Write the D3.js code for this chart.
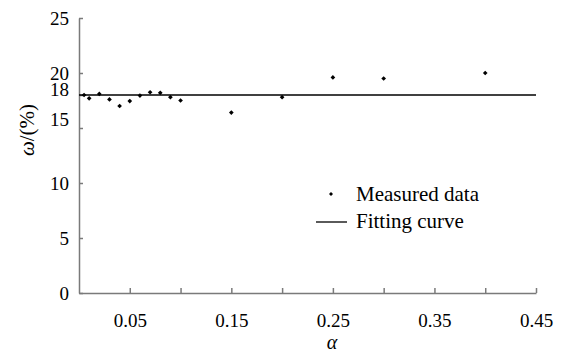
<!DOCTYPE html>
<html>
<head>
<meta charset="utf-8">
<script src="https://cdn.jsdelivr.net/npm/d3@7"></script>
<style>
  body { margin: 0; background: #fff; }
</style>
</head>
<body>
<div id="chart"></div>
<script>
// measured points
let alpha = [0.005, 0.01, 0.02, 0.03, 0.04, 0.05, 0.06, 0.07, 0.08, 0.09, 0.10, 0.15, 0.20, 0.25, 0.30, 0.40];
let omega = [18.0, 17.7, 18.1, 17.6, 17.0, 17.45, 17.95, 18.25, 18.2, 17.8, 17.5, 16.4, 17.8, 19.6, 19.5, 20.0];
// fitting curve (constant)
let fitX = [0, 0.45];
let fitY = [18, 18];
let xTicks = [0.05, 0.10, 0.15, 0.20, 0.25, 0.30, 0.35, 0.40, 0.45];
let xLabels = ["0.05", "", "0.15", "", "0.25", "", "0.35", "", "0.45"];
let yTicks = [0, 5, 10, 15, 18, 20, 25];

let width = 566;
let height = 354;
let margin = {top: 18, right: 30, bottom: 61, left: 79};
let serif = "'Liberation Serif', 'Times New Roman', Times, serif";

let svg = d3.select("#chart").append("svg")
	.attr("width", width)
	.attr("height", height)
	.attr("font-family", serif);

let x = d3.scaleLinear().domain([0, 0.45]).range([margin.left, width - margin.right]);
let y = d3.scaleLinear().domain([0, 25]).range([height - margin.bottom, margin.top]);

let axisColor = "#7a7a7a";

// x axis, ticks pointing inward
let xAxis = svg.append("g")
	.attr("transform", "translate(0," + y(0) + ")")
	.call(d3.axisBottom(x).tickValues(xTicks).tickSize(-5).tickSizeOuter(0)
		.tickFormat(function(d, i){ return xLabels[i]; }));
xAxis.attr("font-family", serif).attr("font-size", 19);
xAxis.selectAll("text").attr("y", 21);

// y axis
let yAxis = svg.append("g")
	.attr("transform", "translate(" + x(0) + ",0)")
	.call(d3.axisLeft(y).tickValues(yTicks).tickSize(-4).tickSizeOuter(0));
yAxis.attr("font-family", serif).attr("font-size", 19);
yAxis.selectAll("text").attr("x", -10)
	.attr("dy", function(d){ return d == 15 ? "-0.12em" : (d == 18 ? "0" : "0.32em"); });

svg.selectAll(".domain, .tick line").attr("stroke", axisColor).attr("stroke-width", 1.5);
svg.selectAll(".tick text").attr("fill", "#000");

// fitting line
let line = d3.line()
	.x(function(d, i){ return x(fitX[i]); })
	.y(function(d, i){ return y(fitY[i]); });
svg.append("path")
	.datum(fitX)
	.attr("d", line)
	.attr("fill", "none")
	.attr("stroke", "#000")
	.attr("stroke-width", 1.3);

// measured points (small diamonds)
let marker = d3.symbol().type(d3.symbolSquare).size(11);
svg.selectAll(".pt")
	.data(alpha)
	.enter().append("path")
	.attr("class", "pt")
	.attr("d", marker)
	.attr("transform", function(d, i){ return "translate(" + x(d) + "," + y(omega[i]) + ") rotate(45)"; })
	.attr("fill", "#000");

// axis titles
svg.append("text")
	.attr("x", 332)
	.attr("y", 349)
	.attr("text-anchor", "middle")
	.attr("font-size", 20)
	.attr("font-style", "italic")
	.text("α");

svg.append("text")
	.attr("transform", "translate(34,130) rotate(-90)")
	.attr("text-anchor", "middle")
	.attr("font-size", 21)
	.html('<tspan font-style="italic">ω</tspan>/(%)');

// legend
let legend = svg.append("g").attr("font-size", 21);
legend.append("path")
	.attr("d", d3.symbol().type(d3.symbolSquare).size(8))
	.attr("transform", "translate(331,194) rotate(45)")
	.attr("fill", "#000");
legend.append("line")
	.attr("x1", 316).attr("x2", 347)
	.attr("y1", 222).attr("y2", 222)
	.attr("stroke", "#000")
	.attr("stroke-width", 1.3);
legend.append("text")
	.attr("x", 356).attr("y", 201)
	.text("Measured data");
legend.append("text")
	.attr("x", 356).attr("y", 228)
	.text("Fitting curve");
</script>
</body>
</html>
